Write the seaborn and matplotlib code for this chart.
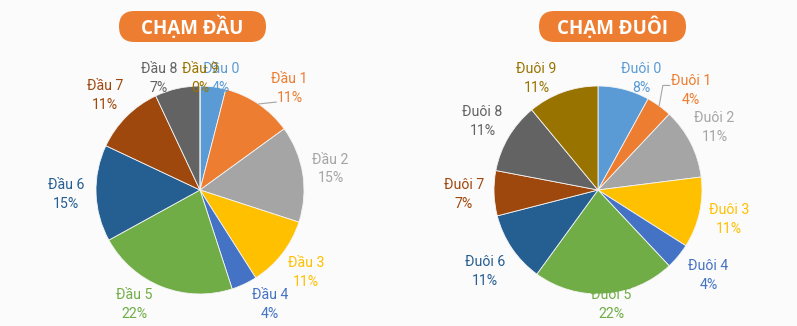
import numpy as np
import matplotlib
matplotlib.use("Agg")
import matplotlib.pyplot as plt
from matplotlib.patches import FancyBboxPatch
import seaborn as sns

# ---------------- data ----------------
dau_labels = ["Đầu 0", "Đầu 1", "Đầu 2", "Đầu 3", "Đầu 4",
              "Đầu 5", "Đầu 6", "Đầu 7", "Đầu 8", "Đầu 9"]
dau_pct = [4, 11, 15, 11, 4, 22, 15, 11, 7, 0]

duoi_labels = ["Đuôi 0", "Đuôi 1", "Đuôi 2", "Đuôi 3", "Đuôi 4",
               "Đuôi 5", "Đuôi 6", "Đuôi 7", "Đuôi 8", "Đuôi 9"]
duoi_pct = [8, 4, 11, 11, 4, 22, 11, 7, 11, 11]

titles = ["CHẠM ĐẦU", "CHẠM ĐUÔI"]

colors = ["#5B9BD5", "#ED7D31", "#A5A5A5", "#FFC000", "#4472C4",
          "#70AD47", "#255E91", "#9E480E", "#636363", "#997300"]

# ---------------- style ----------------
sns.set_theme(style="white")
plt.rcParams["font.family"] = ["Roboto", "DejaVu Sans"]
palette = sns.color_palette(colors)

BG = "#fbfbfb"
W, H = 797, 326
fig = plt.figure(figsize=(W / 100, H / 100), dpi=100, facecolor=BG)

R = 104          # pie radius in px
HALF = 160       # half size of each pie axes in px
LBL_DIST = 1.29
Y_TOP, Y_BOT = 1.075, -1.105

# layout tweaks (px) for labels Excel pushed aside
nudges = [
    {1: (14, 9), 4: (13, 0), 5: (-16, 0), 8: (-12, 0), 0: (4, 0), 2: (-2, 0)},
    {0: (10, 0), 1: (14, 9), 9: (-16, 0), 5: (5, 0), 4: (7, 0), 6: (-2, 6), 2: (-3, -2)},
]
# leader lines: (label index, polyline end points in px relative to label centre)
leaders = [
    (1, [(-13, 14)]),
    (1, [(-28, -5), (-21, -5)]),
]
pie_centers = [(200, 190), (598, 190)]
title_boxes = [(119, 11, 147, 31), (539, 11, 147, 31)]


def draw_pie(cx, cy, names, vals, nudge, leader):
    ax = fig.add_axes([(cx - HALF) / W, (H - cy - HALF) / H, 2 * HALF / W, 2 * HALF / H])
    ax.set_facecolor("none")
    ax.pie(vals, colors=palette, startangle=90, counterclock=False, radius=1,
           wedgeprops=dict(edgecolor="#f4f4f4", linewidth=0.6))
    lim = HALF / R
    ax.set_xlim(-lim, lim)
    ax.set_ylim(-lim, lim)
    ax.set_aspect("equal")
    ax.axis("off")
    total = sum(vals)
    cum = np.cumsum([0] + list(vals))
    for i, (nm, v) in enumerate(zip(names, vals)):
        mid = (cum[i] + cum[i + 1]) / 2 / total * 2 * np.pi
        x = LBL_DIST * np.sin(mid)
        y = np.clip(LBL_DIST * np.cos(mid), Y_BOT, Y_TOP)
        dx, dy = nudge.get(i, (0, 0))
        x += dx / R
        y -= dy / R
        ax.text(x, y, f"{nm}\n{v}%", ha="center", va="center", color=palette[i],
                fontsize=10.2, linespacing=1.45, clip_on=False)
        li, pts = leader
        if i == li:
            ex, ey = np.sin(mid), np.cos(mid)
            xs = [ex] + [x + px / R for px, _ in pts]
            ys = [ey] + [y - py / R for _, py in pts]
            ax.plot(xs, ys, color="#a5a5a5", lw=0.8, clip_on=False)
    return ax


draw_pie(*pie_centers[0], dau_labels, dau_pct, nudges[0], leaders[0])
draw_pie(*pie_centers[1], duoi_labels, duoi_pct, nudges[1], leaders[1])

# title overlay in pixel coordinates
ov = fig.add_axes([0, 0, 1, 1])
ov.set_facecolor("none")
ov.set_xlim(0, W)
ov.set_ylim(H, 0)
ov.axis("off")
for (x0, y0, w, h), t in zip(title_boxes, titles):
    box = FancyBboxPatch((x0, y0), w, h, boxstyle=f"round,pad=0,rounding_size={h/2}",
                         facecolor="#ED7D31", edgecolor="none")
    ov.add_patch(box)
    ov.text(x0 + w / 2, y0 + h / 2 + 1, t, ha="center", va="center", color="white",
            fontsize=13.5, fontweight="bold", family=["Open Sans", "DejaVu Sans"])

fig.savefig("out.png", dpi=100, facecolor=BG)
